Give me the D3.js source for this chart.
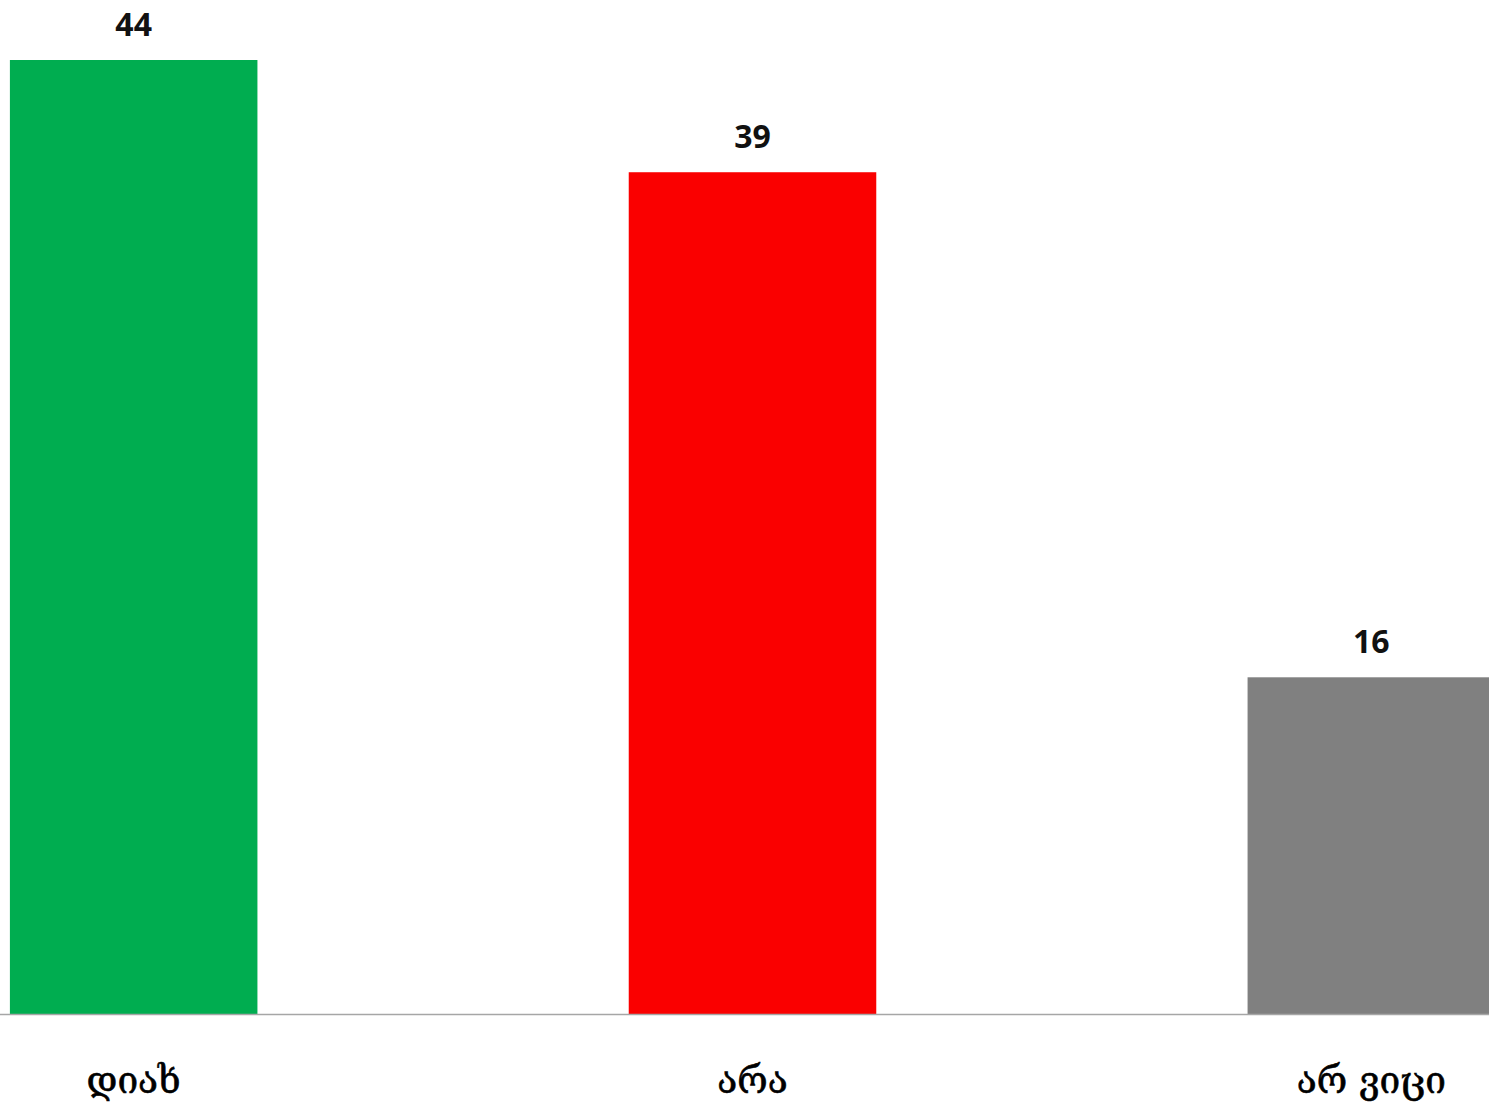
<!DOCTYPE html>
<html>
<head>
<meta charset="utf-8">
<script src="https://cdn.jsdelivr.net/npm/d3@7"></script>
<style>
  body { margin: 0; background: #fff; overflow: hidden; }
</style>
</head>
<body>
<script>
const width = 1489;
const height = 1106;

// data (label shows rounded value)
const categorias = ["დიახ", "არა", "არ ვიცი"];
const valores = [44.2, 39.0, 15.6];
const colores = ["#00ad50", "#fa0000", "#808080"];

const baseY = 1014;
const topY = 60;

const svg = d3
  .select("body")
  .append("svg")
  .attr("width", width)
  .attr("height", height);

const escalaX = d3
  .scaleBand()
  .domain(categorias)
  .range([0, 1505])
  .paddingInner(0.6)
  .paddingOuter(0.016);

const escalaY = d3
  .scaleLinear()
  .domain([0, d3.max(valores)])
  .range([baseY, topY]);

svg
  .selectAll("rect")
  .data(valores)
  .join("rect")
  .attr("x", (d, i) => escalaX(categorias[i]))
  .attr("y", (d) => escalaY(d))
  .attr("width", escalaX.bandwidth())
  .attr("height", (d) => baseY - escalaY(d))
  .attr("fill", (d, i) => colores[i]);

// eje
svg
  .append("line")
  .attr("x1", 0)
  .attr("x2", width)
  .attr("y1", baseY + 0.5)
  .attr("y2", baseY + 0.5)
  .attr("stroke", "#a6a6a6")
  .attr("stroke-width", 1.5);

svg
  .selectAll(".valor")
  .data(valores)
  .join("text")
  .attr("class", "valor")
  .attr("x", (d, i) => escalaX(categorias[i]) + escalaX.bandwidth() / 2)
  .attr("y", (d) => escalaY(d) - 24)
  .attr("text-anchor", "middle")
  .attr("font-family", "'Open Sans', sans-serif")
  .attr("font-weight", "bold")
  .attr("font-size", 32)
  .attr("fill", "#111")
  .text((d) => d3.format(".0f")(d));

svg
  .selectAll(".cat")
  .data(categorias)
  .join("text")
  .attr("class", "cat")
  .attr("x", (d) => escalaX(d) + escalaX.bandwidth() / 2)
  .attr("y", 1093)
  .attr("text-anchor", "middle")
  .attr("font-family", "'DejaVu Serif', 'DejaVu Sans', serif")
  .attr("font-size", 37)
  .attr("stroke", "#000")
  .attr("stroke-width", 0.6)
  .attr("fill", "#000")
  .text((d) => d);
</script>
</body>
</html>
